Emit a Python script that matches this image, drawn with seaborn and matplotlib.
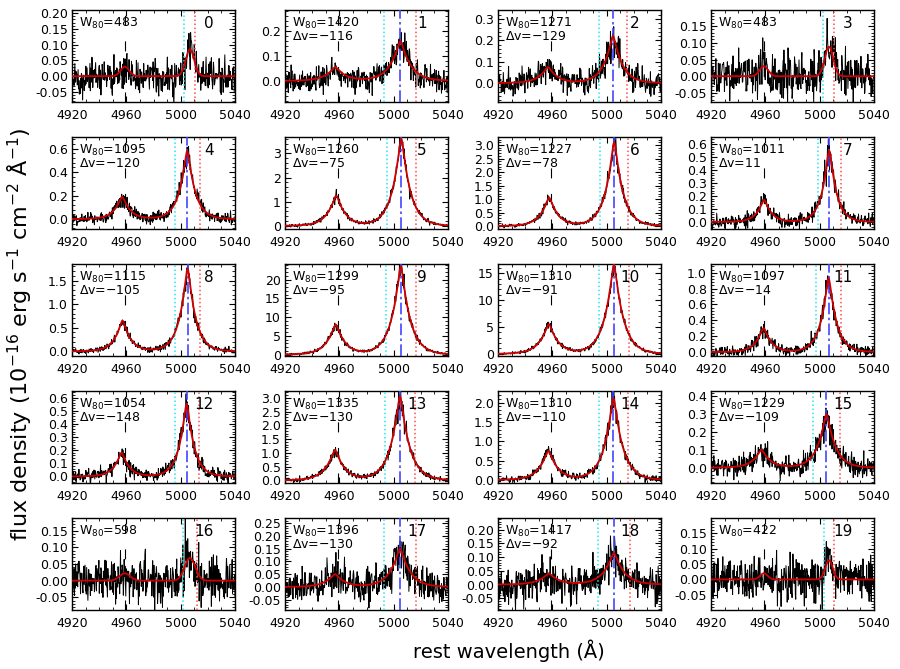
import numpy as np
import pandas as pd
import seaborn as sns
import matplotlib.pyplot as plt
from matplotlib.ticker import MultipleLocator, AutoMinorLocator, FormatStrFormatter

sns.set_style("ticks")
plt.rcParams['font.family'] = ['DejaVu Sans']
plt.rcParams['mathtext.fontset'] = 'dejavusans'
plt.rcParams['text.color'] = 'black'
plt.rcParams['xtick.color'] = 'black'
plt.rcParams['ytick.color'] = 'black'
plt.rcParams['axes.edgecolor'] = 'black'

# values, one entry per panel (0..19)
w80 = [483, 1420, 1271, 483, 1095, 1260, 1227, 1011, 1115, 1299,
       1310, 1097, 1054, 1335, 1310, 1229, 598, 1396, 1417, 422]
dv = [np.nan, -116, -129, np.nan, -120, -75, -78, 11, -105, -95,
      -91, -14, -148, -130, -110, -109, np.nan, -130, -92, np.nan]
peak5007 = [0.085, 0.16, 0.22, 0.088, 0.58, 3.6, 3.1, 0.55, 1.75, 23.5,
            16.5, 0.93, 0.55, 3.05, 2.1, 0.30, 0.068, 0.15, 0.115, 0.062]
peak4959 = [0.03, 0.055, 0.075, 0.03, 0.19, 1.25, 1.05, 0.17, 0.65, 8.0,
            5.5, 0.30, 0.18, 1.1, 0.75, 0.10, 0.022, 0.05, 0.04, 0.02]
noise = [0.03, 0.025, 0.03, 0.03, 0.025, 0.03, 0.03, 0.025, 0.03, 0.15,
         0.12, 0.03, 0.025, 0.04, 0.04, 0.03, 0.035, 0.035, 0.035, 0.035]
ymin = [-0.082, -0.085, -0.089, -0.077, -0.085, -0.13, -0.11, -0.055, -0.1, -0.4,
        -0.4, -0.05, -0.05, -0.1, -0.08, -0.086, -0.088, -0.09, -0.093, -0.099]
ymax = [0.21, 0.285, 0.342, 0.198, 0.70, 3.68, 3.3, 0.655, 1.85, 24.2,
        16.7, 1.11, 0.65, 3.25, 2.3, 0.43, 0.188, 0.27, 0.243, 0.199]
ystep = [0.05, 0.1, 0.1, 0.05, 0.2, 1, 0.5, 0.1, 0.5, 5,
         5, 0.2, 0.1, 0.5, 0.5, 0.1, 0.05, 0.05, 0.05, 0.05]
ydec = [2, 1, 1, 2, 1, 0, 1, 1, 1, 0, 0, 1, 1, 1, 1, 1, 2, 2, 2, 2]
xticks = [4920, 4960, 5000, 5040]

C = 299792.458
L5007, L4959 = 5006.84, 4958.91
wave = np.arange(4920, 5040.01, 0.3)


def profile(x, x0, w80_A, gauss):
    # line shape of the fit: gaussian for the narrow objects, cusp-like otherwise
    if gauss:
        s = w80_A / 2.563
        return np.exp(-0.5 * ((x - x0) / s) ** 2)
    s = w80_A / 3.22
    a = 0.8
    return np.exp(-(np.sqrt((x - x0) ** 2 + a ** 2) - a) / s)


fig = plt.figure(figsize=(9, 6.69), dpi=100)
col_left = [72, 285, 498, 711]
row_top = [10, 137, 264, 391, 518]
pw, ph = 163, 92
rng = np.random.default_rng(7)

for i in range(20):
    r, c = divmod(i, 4)
    ax = fig.add_axes([col_left[c] / 900, 1 - (row_top[r] + ph) / 669, pw / 900, ph / 669])
    gauss = np.isnan(dv[i])
    v = 0.0 if gauss else dv[i]
    cen = L5007 * (1 + v / C)
    cen2 = L4959 * (1 + v / C)
    wA = w80[i] / C * L5007
    model = peak5007[i] * profile(wave, cen, wA, gauss) + peak4959[i] * profile(wave, cen2, wA, gauss)
    # observed spectrum: model plus noise texture (pixel values cannot be read off the figure)
    sig = noise[i] + 0.06 * model
    flux = model + rng.normal(0, 1, wave.size) * sig
    df = pd.DataFrame({'wave': wave, 'flux': flux, 'model': model})

    ax.axvline(L4959, color='black', ls=(0, (9, 14)), lw=0.8, zorder=1)
    sns.lineplot(data=df, x='wave', y='flux', ax=ax, color='black', lw=0.7, zorder=2)
    ax.axvline(cen - wA / 2, color='#22e6f0', ls=':', lw=1.1, zorder=3)
    ax.axvline(cen + wA / 2, color='#ff4a4a', ls=':', lw=1.1, zorder=3)
    if not gauss:
        ax.axvline(cen, color='#4444ff', ls=(0, (7, 2, 1.5, 2)), lw=1.2, zorder=3)
    sns.lineplot(data=df, x='wave', y='model', ax=ax, color='#d00000', lw=1.3, zorder=4)

    ax.set_xlim(4920, 5040)
    ax.set_ylim(ymin[i], ymax[i])
    ax.set_xticks(xticks)
    ax.xaxis.set_minor_locator(MultipleLocator(10))
    ax.yaxis.set_major_locator(MultipleLocator(ystep[i]))
    ax.yaxis.set_minor_locator(AutoMinorLocator(5))
    ax.yaxis.set_major_formatter(FormatStrFormatter('%.{}f'.format(ydec[i])))
    ax.tick_params(which='both', direction='in', top=True, right=True, labelsize=9)
    ax.tick_params(axis='x', pad=5)
    ax.tick_params(axis='y', pad=3)
    ax.tick_params(which='major', length=4.5, width=0.8)
    ax.tick_params(which='minor', length=2.2, width=0.6)
    for sp in ax.spines.values():
        sp.set_linewidth(1.0)
    ax.set_xlabel('')
    ax.set_ylabel('')

    txt = r'W$_{80}$=%d' % w80[i]
    if not gauss:
        txt += '\n' + r'$\Delta$v=%s' % str(int(dv[i])).replace('-', '\u2212')
    ax.text(0.04, 0.94, txt, transform=ax.transAxes, ha='left', va='top',
            fontsize=9, linespacing=0.92)
    ax.text(0.87, 0.94, str(i), transform=ax.transAxes, ha='right', va='top', fontsize=11)

fig.text(0.565, 0.028, 'rest wavelength (Å)', ha='center', va='center', fontsize=14)
fig.text(0.022, 0.50, r'flux density (10$^{-16}$ erg s$^{-1}$ cm$^{-2}$ Å$^{-1}$)',
         rotation=90, ha='center', va='center', fontsize=16)

fig.savefig('out.png', dpi=100)
